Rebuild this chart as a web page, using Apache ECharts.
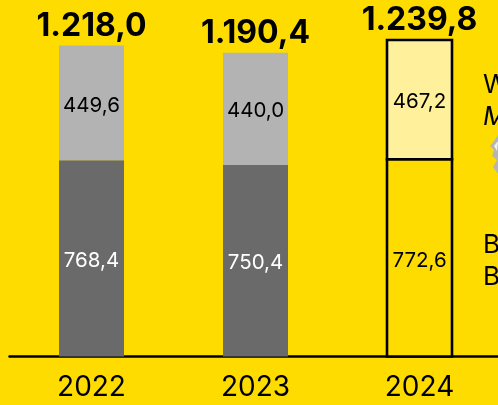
<!DOCTYPE html>
<html>
<head>
<meta charset="utf-8">
<style>
html, body { margin: 0; padding: 0; background: #ffdc00; overflow: hidden; }
#container { width: 520px; height: 405px; }
</style>
<script src="https://cdn.jsdelivr.net/npm/echarts@6/dist/echarts.min.js"></script>
</head>
<body>
<div id="container"></div>
<script>
var years = ['2022', '2023', '2024'];
var greyLower = [768.4, 750.4, null];
var greyUpper = [449.6, 440.0, null];
// 2024 is outlined, drawn by a custom series so the divider stays one line
var outlined = [[2, 0, 772.6, '#ffdc00'], [2, 772.6, 1239.8, '#fff09c']];
var totals = [1218.0, 1190.4, 1239.8];
var sideLabels = ['W', 'M', 'B', 'B'];

function fmt(v) {
    var p = v.toFixed(1).split('.');
    if (p[0].length > 3) p[0] = p[0].slice(0, -3) + '.' + p[0].slice(-3);
    return p.join(',');
}

var font = 'Inter, "Noto Sans", sans-serif';
var myChart = echarts.init(document.getElementById('container'));

function renderOutlined(params, api) {
    var a = api.coord([api.value(0), api.value(1)]);
    var b = api.coord([api.value(0), api.value(2)]);
    return {
        type: 'group',
        children: [{
            type: 'rect',
            shape: { x: a[0] - 32.5, y: b[1], width: 65, height: a[1] - b[1] },
            style: { fill: outlined[params.dataIndex][3], stroke: '#000', lineWidth: 2.6 }
        }, {
            type: 'text',
            x: a[0],
            y: (a[1] + b[1]) / 2 + 2.5,
            style: {
                text: fmt(api.value(2) - api.value(1)),
                fill: '#000',
                font: '20.5px ' + font,
                align: 'center',
                verticalAlign: 'middle'
            }
        }]
    };
}

var valueLabel = {
    show: true,
    position: 'inside',
    offset: [0, 2.5],
    fontSize: 20.5,
    fontFamily: font,
    formatter: function (p) { return fmt(p.value); }
};

var option = {
    backgroundColor: '#ffdc00',
    animation: false,
    grid: { left: 9.5, width: 492, top: 5, bottom: 48.5 },
    xAxis: {
        type: 'category',
        data: years,
        axisTick: { show: false },
        axisLine: { lineStyle: { color: '#000', width: 2.5 } },
        axisLabel: { color: '#000', fontSize: 28, fontFamily: font, margin: 17 }
    },
    yAxis: { type: 'value', min: 0, max: 1377, show: false, splitLine: { show: false } },
    series: [{
        type: 'bar',
        stack: 'a',
        barWidth: 65,
        data: greyLower,
        itemStyle: { color: '#6a6a6a' },
        label: Object.assign({}, valueLabel, { color: '#fff' })
    }, {
        type: 'bar',
        stack: 'a',
        barWidth: 65,
        data: greyUpper,
        itemStyle: { color: '#b3b3b3' },
        label: Object.assign({}, valueLabel, { color: '#000' })
    }, {
        type: 'custom',
        renderItem: renderOutlined,
        data: outlined,
        encode: { x: 0, y: [1, 2] },
        z: 1
    }, {
        type: 'line',
        data: totals,
        symbol: 'circle',
        symbolSize: 1,
        showSymbol: true,
        lineStyle: { width: 0 },
        itemStyle: { color: 'transparent' },
        z: 5,
        label: {
            show: true,
            position: 'top',
            distance: 3,
            color: '#000',
            fontSize: 32,
            fontWeight: 'bold',
            fontFamily: font,
            formatter: function (p) { return fmt(p.value); }
        }
    }],
    graphic: [
        { type: 'text', left: 483, top: 72, style: { text: sideLabels[0], fontSize: 26, fontFamily: font, fill: '#000' } },
        { type: 'text', left: 483, top: 104, style: { text: sideLabels[1], fontSize: 26, fontStyle: 'italic', fontFamily: font, fill: '#000' } },
        { type: 'text', left: 483, top: 232, style: { text: sideLabels[2], fontSize: 26, fontFamily: font, fill: '#000' } },
        { type: 'text', left: 483, top: 264, style: { text: sideLabels[3], fontSize: 26, fontFamily: font, fill: '#000' } },
        {
            type: 'polygon',
            shape: { points: [[498, 135], [494, 141], [490, 146], [494, 150], [492, 156], [497, 160], [493, 167], [498, 174]] },
            style: { fill: '#b5b5b5' }
        },
        {
            type: 'polygon',
            shape: { points: [[498, 141], [494, 146], [497, 151]] },
            style: { fill: '#f2f2f2' }
        }
    ]
};
myChart.setOption(option, true);
</script>
</body>
</html>
